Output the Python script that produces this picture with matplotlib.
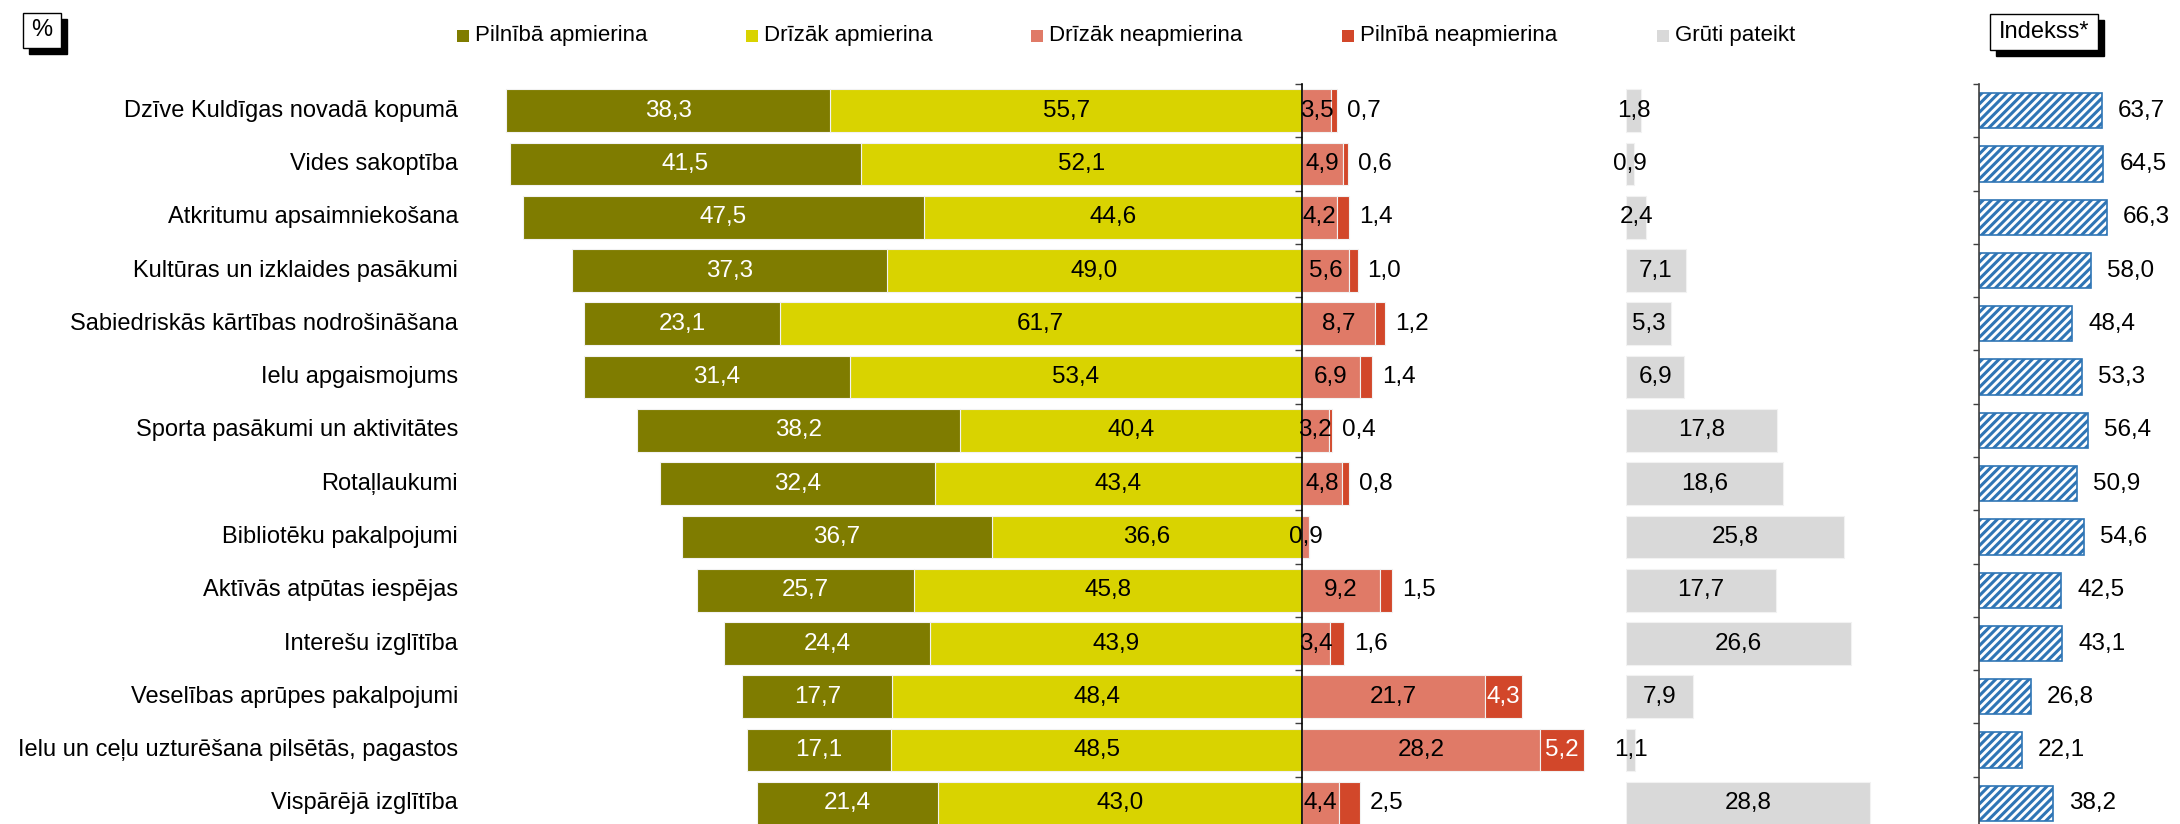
import matplotlib
matplotlib.use('Agg')
import matplotlib.pyplot as plt
import matplotlib.transforms as mtransforms
from matplotlib.patches import Rectangle
import numpy as np

plt.rcParams['font.family'] = ['Liberation Sans', 'DejaVu Sans']
plt.rcParams['hatch.linewidth'] = 2.2

# --- dati ---
kategorijas = [
    'Dzīve Kuldīgas novadā kopumā',
    'Vides sakoptība',
    'Atkritumu apsaimniekošana',
    'Kultūras un izklaides pasākumi',
    'Sabiedriskās kārtības nodrošināšana',
    'Ielu apgaismojums',
    'Sporta pasākumi un aktivitātes',
    'Rotaļlaukumi',
    'Bibliotēku pakalpojumi',
    'Aktīvās atpūtas iespējas',
    'Interešu izglītība',
    'Veselības aprūpes pakalpojumi',
    'Ielu un ceļu uzturēšana pilsētās, pagastos',
    'Vispārējā izglītība',
]
pilnibā_apm = [38.3, 41.5, 47.5, 37.3, 23.1, 31.4, 38.2, 32.4, 36.7, 25.7, 24.4, 17.7, 17.1, 21.4]
drizak_apm = [55.7, 52.1, 44.6, 49.0, 61.7, 53.4, 40.4, 43.4, 36.6, 45.8, 43.9, 48.4, 48.5, 43.0]
drizak_neapm = [3.5, 4.9, 4.2, 5.6, 8.7, 6.9, 3.2, 4.8, 0.9, 9.2, 3.4, 21.7, 28.2, 4.4]
pilnibā_neapm = [0.7, 0.6, 1.4, 1.0, 1.2, 1.4, 0.4, 0.8, 0.0, 1.5, 1.6, 4.3, 5.2, 2.5]
gruti_pateikt = [1.8, 0.9, 2.4, 7.1, 5.3, 6.9, 17.8, 18.6, 25.8, 17.7, 26.6, 7.9, 1.1, 28.8]
indekss = [63.7, 64.5, 66.3, 58.0, 48.4, 53.3, 56.4, 50.9, 54.6, 42.5, 43.1, 26.8, 22.1, 38.2]

leg_labels = ['Pilnībā apmierina', 'Drīzāk apmierina', 'Drīzāk neapmierina',
              'Pilnībā neapmierina', 'Grūti pateikt']
krasas = ['#7F7C00', '#D9D300', '#E07A67', '#D2472A', '#D9D9D9']
zila = '#2F75B5'

W, H = 2180, 824
fig = plt.figure(figsize=(W / 100, H / 100), dpi=100)

y = np.arange(len(kategorijas))
fs = 17
ax_bottom = -6 / H
ax_height = 746 / H
px = 8.46  # pikseļi uz 1 %


def fmt(v):
    return f'{v:.1f}'.replace('.', ',')


# --- galvenā diagramma ---
ax1 = fig.add_axes([0, ax_bottom, 1600 / W, ax_height])
ax1.set_xlim(-1301.7 / px, (1600 - 1301.7) / px)
ax1.set_ylim(13.5, -0.5)

pa = np.array(pilnibā_apm)
da = np.array(drizak_apm)
dn = np.array(drizak_neapm)
pn = np.array(pilnibā_neapm)

ax1.barh(y, -da, height=0.8, color=krasas[1], edgecolor='#F2F2F2', linewidth=0.8)
ax1.barh(y, -pa, left=-da, height=0.8, color=krasas[0], edgecolor='#F2F2F2', linewidth=0.8)
ax1.barh(y, dn, height=0.8, color=krasas[2], edgecolor='#F2F2F2', linewidth=0.8)
ax1.barh(y, pn, left=dn, height=0.8, color=krasas[3], edgecolor='#F2F2F2', linewidth=0.8)

off_right = mtransforms.offset_copy(ax1.transData, fig=fig, x=10, y=0, units='dots')
for i in y:
    ax1.text(-da[i] - pa[i] / 2, i, fmt(pa[i]), ha='center', va='center', color='white', fontsize=fs + 0.5)
    ax1.text(-da[i] / 2, i, fmt(da[i]), ha='center', va='center', color='black', fontsize=fs + 0.5)
    ax1.text(dn[i] / 2, i, fmt(dn[i]), ha='center', va='center', color='black', fontsize=fs + 0.5)
    if pn[i] > 3:
        ax1.text(dn[i] + pn[i] / 2, i, fmt(pn[i]), ha='center', va='center', color='white', fontsize=fs + 0.5)
    elif pn[i] > 0:
        ax1.text(dn[i] + pn[i], i, fmt(pn[i]), ha='left', va='center', color='black',
                 fontsize=fs + 0.5, transform=off_right)

lbl_tr = mtransforms.blended_transform_factory(fig.transFigure, ax1.transData)
for i, k in enumerate(kategorijas):
    ax1.text(458 / W, i, k, ha='right', va='center', fontsize=fs, transform=lbl_tr)

for s in ['top', 'right', 'bottom']:
    ax1.spines[s].set_visible(False)
ax1.spines['left'].set_position(('data', 0))
ax1.spines['left'].set_linewidth(1.2)
ax1.set_xticks([])
ax1.set_yticks(np.arange(-0.5, len(kategorijas), 1.0))
ax1.tick_params(axis='y', direction='out', length=5, width=1, color='#404040', labelleft=False)
ax1.patch.set_alpha(0)

# --- grūti pateikt ---
ax2 = fig.add_axes([1626 / W, ax_bottom, 330 / W, ax_height])
ax2.set_xlim(0, 330 / px)
ax2.set_ylim(13.5, -0.5)
gp = np.array(gruti_pateikt)
ax2.barh(y, gp, height=0.8, color=krasas[4], edgecolor='#F2F2F2', linewidth=0.8)
for i in y:
    ax2.text(gp[i] / 2, i, fmt(gp[i]), ha='center', va='center', color='black', fontsize=fs + 0.5)
ax2.axis('off')

# --- indekss ---
ax3 = fig.add_axes([1979 / W, ax_bottom, 201 / W, ax_height])
ax3.set_xlim(0, 201 / 1.93)
ax3.set_ylim(13.5, -0.5)
ix = np.array(indekss)
ax3.barh(y, ix, height=0.66, color='white', edgecolor=zila, hatch='////', linewidth=1.2)
off_idx = mtransforms.offset_copy(ax3.transData, fig=fig, x=16, y=0, units='dots')
for i in y:
    ax3.text(ix[i], i, fmt(ix[i]), ha='left', va='center', fontsize=fs + 0.5, transform=off_idx)
for s in ['top', 'right', 'bottom']:
    ax3.spines[s].set_visible(False)
ax3.spines['left'].set_linewidth(1.2)
ax3.spines['left'].set_color('#404040')
ax3.set_xticks([])
ax3.set_yticks(np.arange(-0.5, len(kategorijas), 1.0))
ax3.tick_params(axis='y', direction='out', length=4, width=1, color='#404040', labelleft=False)
ax3.patch.set_alpha(0)

# --- leģenda ---
leg_x = [457, 746, 1031, 1342, 1657]
for lx, lab, c in zip(leg_x, leg_labels, krasas):
    fig.add_artist(Rectangle((lx / W, 1 - 42 / H), 12 / W, 12 / H, transform=fig.transFigure,
                             facecolor=c, edgecolor='none'))
    fig.text((lx + 18) / W, 1 - 36 / H, lab, ha='left', va='center', fontsize=16)


# --- rāmīši ar ēnu ---
def box(x0, y0, x1, y1, txt):
    # ēna
    fig.add_artist(Rectangle(((x0 + 6) / W, 1 - (y1 + 6) / H), (x1 - x0) / W, (y1 - y0) / H,
                             transform=fig.transFigure, facecolor='black', edgecolor='black', zorder=5))
    fig.add_artist(Rectangle((x0 / W, 1 - y1 / H), (x1 - x0) / W, (y1 - y0) / H,
                             transform=fig.transFigure, facecolor='white', edgecolor='black',
                             linewidth=1, zorder=6))
    fig.text((x0 + x1) / 2 / W, 1 - (y0 + y1) / 2 / H, txt, ha='center', va='center',
             fontsize=fs, color='black', zorder=7)


box(23, 13, 61, 48, '%')
box(1990, 14, 2098, 50, 'Indekss*')

fig.savefig('out.png', dpi=100)
